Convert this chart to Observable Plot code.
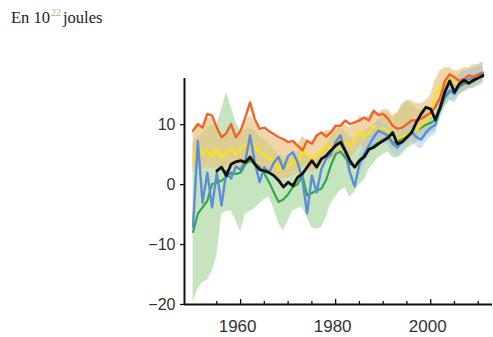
<!DOCTYPE html>
<html>
<head>
<meta charset="utf-8">
<script src="https://cdn.jsdelivr.net/npm/d3@7"></script>
<script src="https://cdn.jsdelivr.net/npm/@observablehq/plot@0.6"></script>
<style>
  html, body { margin: 0; padding: 0; background: #fff; }
  #wrap { position: relative; width: 493px; height: 337px; overflow: hidden; }
  #title { position: absolute; left: 11px; top: 8px; font-family: "Liberation Serif", "Times New Roman", serif; font-size: 16.5px; color: #222; white-space: nowrap; }
  #title sup { font-size: 10px; color: #b9ab7e; vertical-align: 7px; line-height: 0; margin: 0 2px 0 1px; }
</style>
</head>
<body>
<div id="wrap">
  <div id="chart"></div>
  <div id="title">En 10<sup>22</sup>joules</div>
</div>
<script>
// ---- data ----
const years = [1950,1951,1952,1953,1954,1955,1956,1957,1958,1959,
  1960,1961,1962,1963,1964,1965,1966,1967,1968,1969,
  1970,1971,1972,1973,1974,1975,1976,1977,1978,1979,
  1980,1981,1982,1983,1984,1985,1986,1987,1988,1989,
  1990,1991,1992,1993,1994,1995,1996,1997,1998,1999,
  2000,2001,2002,2003,2004,2005,2006,2007,2008,2009,
  2010,2011];

const orangeSeries = [9.0,10.1,9.5,11.8,11.5,9.5,7.9,8.6,10.1,7.9,
  9.0,11.2,13.7,10.9,9.3,9.5,8.9,8.4,7.9,7.6,
  7.1,7.3,6.5,5.7,7.3,6.8,8.2,8.7,8.0,8.7,
  9.8,9.8,10.7,10.1,10.4,10.7,11.2,10.7,12.3,11.6,
  11.8,11.0,9.8,9.3,9.5,10.1,10.7,10.7,11.0,11.5,
  12.0,13.0,14.5,17.3,18.4,17.9,17.3,17.6,18.2,18.0,
  18.3,18.5];

const blackSeries = [null,null,null,null,null,2.3,2.9,1.5,3.4,3.8,
  4.0,3.7,4.6,3.4,2.5,2.3,2.0,1.5,0.7,-0.4,
  0.4,-0.2,1.2,1.8,2.9,4.0,2.9,4.3,4.8,5.7,
  6.5,7.1,5.7,4.0,2.9,4.0,4.6,5.9,6.2,6.8,
  7.3,7.8,8.7,6.8,7.1,7.9,8.7,10.4,11.8,12.9,
  12.6,10.8,12.9,15.5,17.3,15.4,16.8,17.4,16.9,17.4,
  17.8,18.2];

const blueSeries = [-7.0,7.3,-3.0,2.0,-3.8,2.0,-3.5,2.3,1.0,3.0,
  2.5,4.0,8.2,3.7,0.4,2.9,2.0,3.7,4.6,2.6,
  4.8,5.4,3.7,0.9,-4.8,1.5,-1.3,2.6,4.3,5.0,
  7.1,8.2,5.5,2.0,-0.3,3.4,5.1,6.5,7.9,9.0,
  8.6,8.2,6.8,6.2,7.2,7.9,8.8,7.9,7.5,8.7,
  9.5,10.0,12.9,14.8,15.7,15.1,16.5,17.3,17.6,17.8,
  18.4,18.7];

const greenSeries = [-7.9,-4.9,-3.8,-2.7,0.1,0.3,0.7,1.2,2.0,1.8,
  2.0,3.4,4.0,3.5,2.9,1.8,0.4,-1.3,-2.9,-2.5,
  -1.6,-0.4,0.1,1.5,-1.8,-1.4,-1.0,-0.7,0.8,3.2,
  5.1,5.5,4.5,3.5,3.0,4.0,5.0,5.8,6.5,7.0,
  7.5,8.0,7.0,7.0,7.8,8.5,9.0,9.0,9.5,10.0,
  10.3,10.8,12.5,14.5,15.5,15.5,16.3,16.8,17.0,17.3,
  17.8,18.0];

const yellowSeries = [4.0,6.5,5.0,5.7,4.6,6.0,4.5,5.5,6.0,5.0,
  6.0,6.5,7.0,6.5,5.5,5.0,4.5,4.0,2.3,3.5,
  3.0,4.0,3.5,5.7,5.0,4.0,5.0,5.5,6.5,6.0,
  7.0,7.5,7.0,6.5,7.3,9.0,8.0,8.5,9.8,9.0,
  9.5,9.0,8.0,7.6,8.0,8.5,9.0,9.0,10.0,10.5,
  11.5,15.1,16.2,17.0,17.5,17.0,16.8,17.2,17.5,17.8,
  18.0,18.3];

// uncertainty envelopes
const greenLo = [-19.6,-17.5,-16.3,-16.0,-14.5,-12.0,-5.0,-4.5,-4.3,-6.0,
  -7.9,-4.9,-4.5,-4.0,-3.2,-2.5,-2.1,-4.0,-6.5,-7.7,
  -6.0,-4.3,-4.0,-3.8,-5.5,-7.2,-7.4,-7.1,-5.5,-3.2,
  -2.0,-1.0,-0.5,-2.1,-1.2,0.0,0.7,2.5,3.5,4.5,
  5.0,5.5,4.5,4.5,5.0,6.0,6.5,7.0,7.5,8.0,
  8.5,9.0,11.0,13.0,14.0,14.0,15.0,15.5,16.0,16.0,
  16.5,17.0];
const greenHi = [7.0,8.0,8.5,9.5,10.0,10.0,12.5,15.4,13.0,10.5,
  9.0,9.0,9.5,9.0,8.0,7.5,7.0,6.0,5.0,4.5,
  4.5,5.0,5.5,6.5,5.0,4.5,5.0,5.5,6.5,8.0,
  9.0,9.5,9.0,8.0,7.5,8.0,9.0,9.5,10.0,11.0,
  11.5,12.0,11.0,12.0,13.5,14.0,13.5,12.5,12.5,12.5,
  13.0,13.5,15.0,17.0,18.0,18.0,18.5,19.0,19.0,19.5,
  19.5,19.8];
const tanLo = [2.0,3.0,2.5,3.0,2.5,3.0,2.0,3.0,3.0,2.5,
  3.0,3.5,4.0,3.5,3.0,2.5,2.0,1.5,0.5,1.0,
  1.0,1.5,1.5,3.0,2.5,2.0,2.5,3.0,4.0,4.0,
  5.0,5.5,5.0,4.5,5.0,6.5,6.0,6.5,7.5,7.0,
  7.5,7.0,6.0,6.0,6.5,7.0,7.5,7.5,8.5,9.0,
  10.0,12.5,14.0,15.0,15.5,15.5,15.0,15.5,16.0,16.5,
  16.5,17.0];
const tanHi = [9.0,10.0,9.5,11.0,11.0,9.5,8.0,8.5,10.0,8.0,
  9.0,10.5,11.5,10.5,9.0,9.0,8.5,8.0,7.5,7.5,
  7.0,7.0,6.5,8.0,7.5,7.0,8.0,8.5,9.0,9.0,
  10.0,10.0,10.0,9.5,10.0,11.5,11.0,11.5,12.5,12.0,
  12.5,12.5,11.5,12.0,13.0,14.0,14.0,13.5,13.5,14.0,
  15.0,17.5,19.0,19.5,19.5,19.0,19.0,19.5,19.5,20.0,
  20.0,20.5];
const blueBandYears = [1985,1986,1987,1988,1989,1990,1991,1992,1993,1994,
  1995,1996,1997,1998,1999,2000,2001,2002,2003,2004,
  2005,2006,2007,2008,2009,2010,2011];
const blueLo = [1.5,3.3,4.8,6.2,7.3,7.0,6.6,5.2,4.6,5.6,
  6.3,7.2,6.3,5.9,7.1,7.9,8.4,11.3,13.2,14.1,
  13.5,14.9,15.7,16.0,16.2,16.8,17.1];
const blueHi = [5.0,6.8,8.2,9.6,10.7,10.2,9.8,8.4,7.8,8.8,
  9.5,10.4,9.5,9.1,10.3,11.1,11.6,14.5,16.4,17.3,
  16.7,18.1,18.9,19.2,19.4,20.0,20.3];

const yTicks = [-20, -10, 0, 10];
const xLabelTicks = [1960, 1980, 2000];
const xMinorTicks = [1955,1965,1970,1975,1985,1990,1995,2005,2010];
const yDomain = [-20, 17.7];
const xDomain = [1948.2, 2013];

// ---- tables ----
const rows = (vals) => years.map((y, i) => ({year: y, v: vals[i]}));
const band = (lo, hi) => years.map((y, i) => ({year: y, lo: lo[i], hi: hi[i]}));
const blueBand = blueBandYears.map((y, i) => ({year: y, lo: blueLo[i], hi: blueHi[i]}));

const lineOpts = (stroke, w) => ({x: "year", y: "v", stroke, strokeWidth: w, strokeLinejoin: "round", curve: "linear"});

const chart = Plot.plot({
  width: 493,
  height: 337,
  marginLeft: 184,
  marginRight: 1,
  marginTop: 78,
  marginBottom: 33,
  x: {domain: xDomain, label: null},
  y: {domain: yDomain, label: null},
  style: {background: "white", fontFamily: "'Liberation Sans', Arial, sans-serif", overflow: "visible"},
  marks: [
    Plot.areaY(band(greenLo, greenHi), {x: "year", y1: "lo", y2: "hi", fill: "#b3dba8", fillOpacity: 0.75}),
    Plot.areaY(band(tanLo, tanHi), {x: "year", y1: "lo", y2: "hi", fill: "#e9c27e", fillOpacity: 0.68}),
    Plot.areaY(blueBand, {x: "year", y1: "lo", y2: "hi", fill: "#a9c3ec", fillOpacity: 0.5}),
    Plot.line(rows(greenSeries), lineOpts("#2fa84c", 2.2)),
    Plot.line(rows(yellowSeries), lineOpts("#f6e21e", 2.4)),
    Plot.line(rows(blueSeries), lineOpts("#5b8dd8", 2.4)),
    Plot.line(rows(orangeSeries), lineOpts("#f0632c", 2.4)),
    Plot.line(rows(blackSeries), lineOpts("#111111", 2.8)),
    // axes
    Plot.ruleY([yDomain[0]], {stroke: "#111", strokeWidth: 2}),
    Plot.ruleX([xDomain[0]], {stroke: "#111", strokeWidth: 2}),
    Plot.ruleX(xMinorTicks, {x: d => d, y1: yDomain[0], y2: yDomain[0] + 0.5, stroke: "#111", strokeWidth: 1.3}),
    Plot.ruleX(xLabelTicks, {x: d => d, y1: yDomain[0], y2: yDomain[0] + 0.85, stroke: "#111", strokeWidth: 1.3}),
    Plot.axisY({ticks: yTicks, tickSize: 4, tickPadding: 5, fontSize: 16, fill: "#333", stroke: "#111", strokeWidth: 1.3, label: null}),
    Plot.axisX({ticks: xLabelTicks, tickSize: 0, tickPadding: 15, fontSize: 17, fill: "#333", dx: -3, tickFormat: "d", label: null})
  ]
});
document.getElementById("chart").appendChild(chart);
</script>
</body>
</html>
